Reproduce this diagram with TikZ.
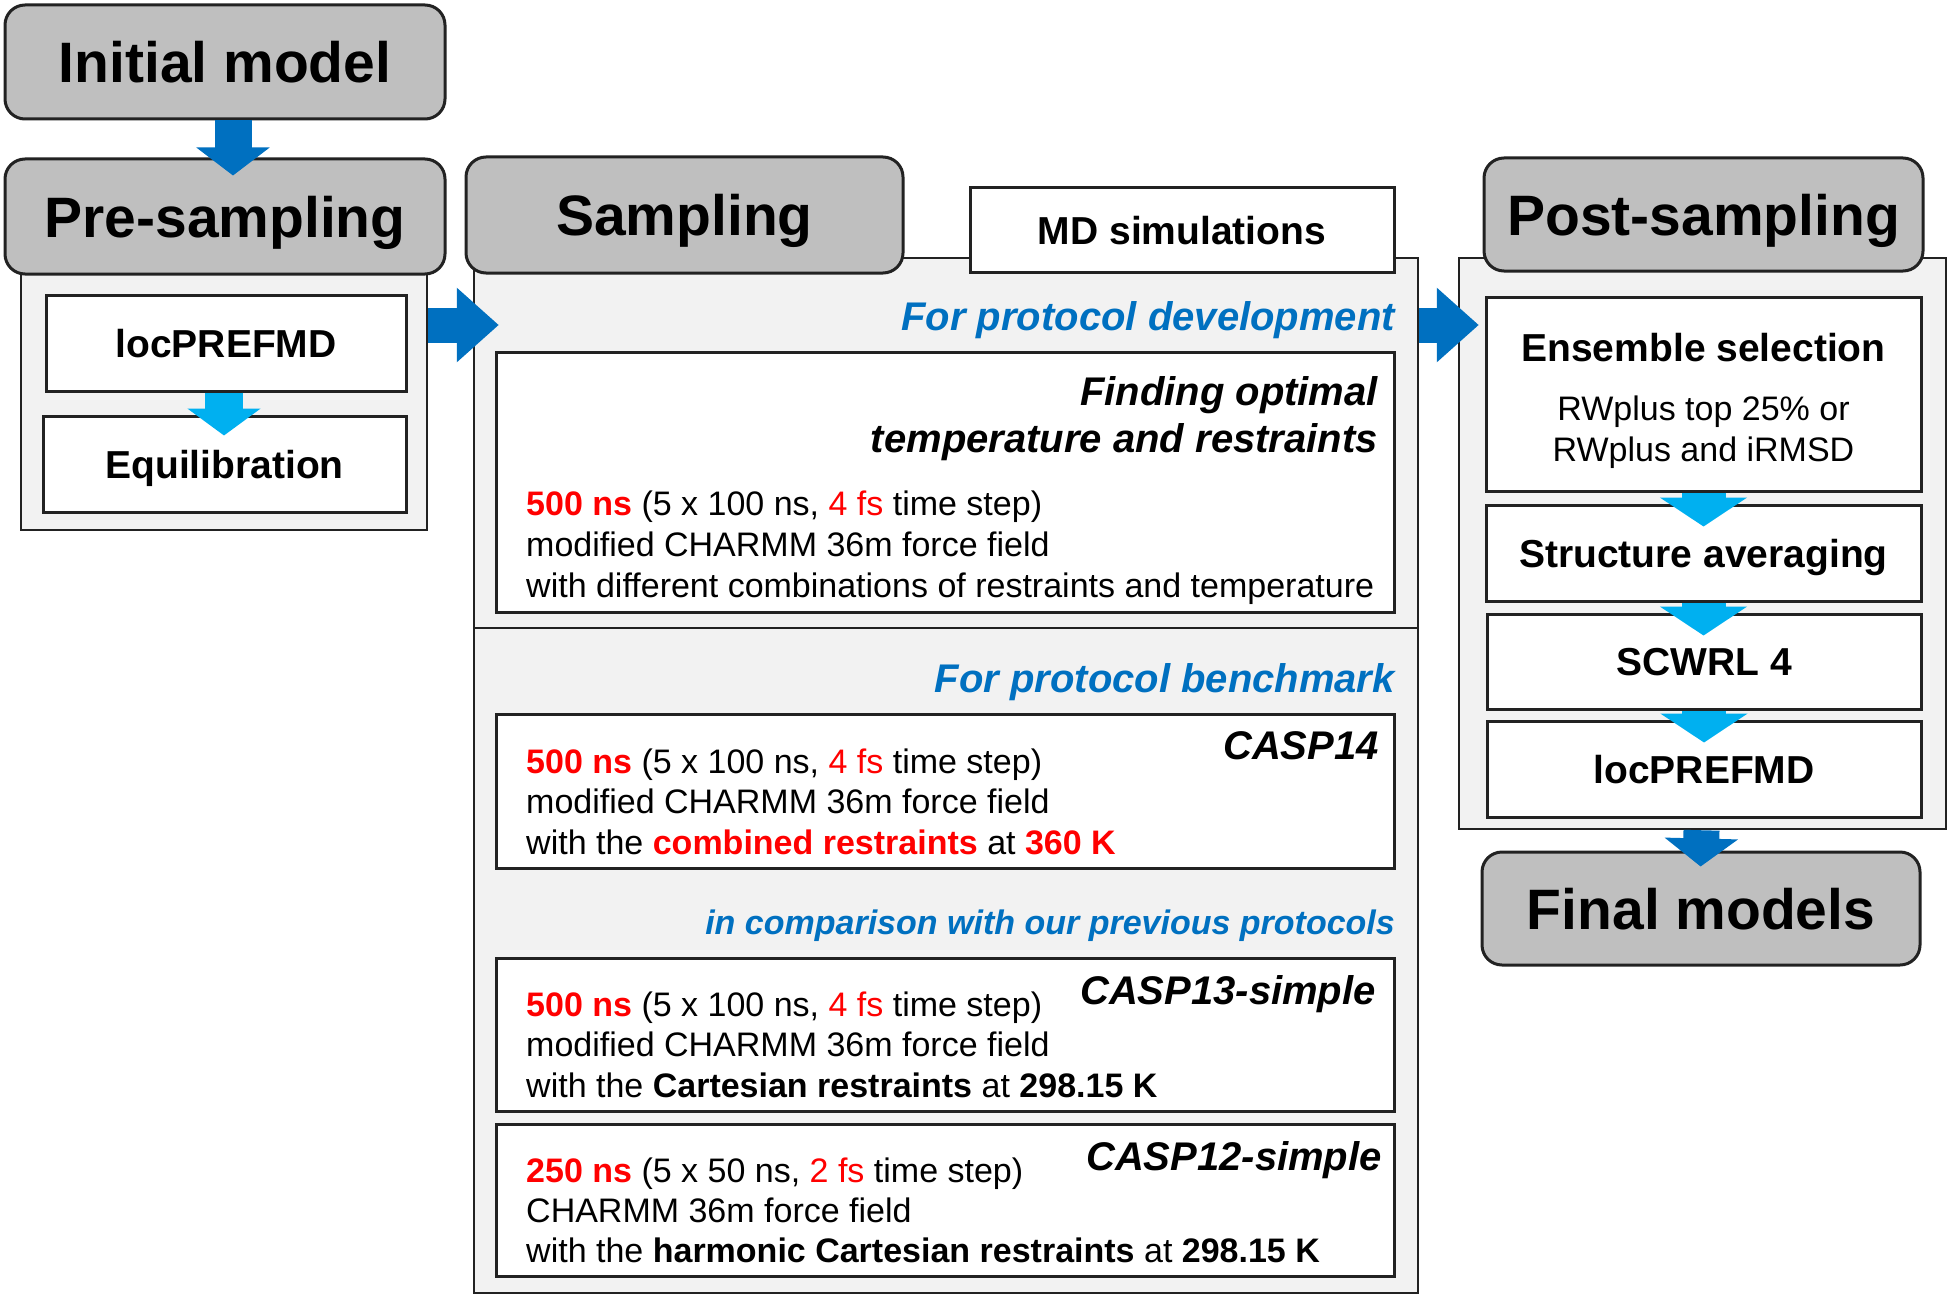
\documentclass[tikz,border=0pt]{standalone}
\usepackage{fontspec}
\setmainfont{Liberation Sans}
\usetikzlibrary{arrows.meta}
\definecolor{dblue}{HTML}{0070C0}
\definecolor{lblue}{HTML}{00B0F0}
\definecolor{hdrgray}{HTML}{BFBFBF}
\definecolor{contgray}{HTML}{F2F2F2}
\definecolor{tred}{HTML}{FF0000}
\definecolor{edge}{HTML}{222222}
\newcommand\rb[1]{{\bfseries\color{tred}#1}}
\newcommand\rr[1]{{\color{tred}#1}}
\begin{document}
\begin{tikzpicture}[x=1pt,y=-1pt,
  hdr/.style={draw=edge, line width=3pt, fill=hdrgray, rounded corners=20pt, inner sep=0pt,
    font=\fontsize{57}{68}\selectfont\bfseries, text height=41pt, text depth=0pt},
  cont/.style={draw=edge, line width=2.5pt, fill=contgray, inner sep=0pt},
  wbox/.style={draw=edge, line width=3pt, fill=white, inner sep=0pt,
    font=\fontsize{39}{47}\selectfont\bfseries, text height=28pt, text depth=0pt},
  body/.style={font=\fontsize{34}{41}\selectfont, anchor=base west, inner sep=0pt},
  blueh/.style={font=\fontsize{40}{48}\selectfont\bfseries\itshape, text=dblue, anchor=base east, inner sep=0pt},
  caspl/.style={font=\fontsize{40}{48}\selectfont\bfseries\itshape, anchor=base east, inner sep=0pt},
  darr/.style={draw=dblue, line width=37pt, -{Triangle[width=72pt,length=28pt]}},
  darrh/.style={draw=dblue, line width=35pt, -{Triangle[width=72pt,length=42pt]}},
  larr/.style={draw=lblue, line width=38pt, -{Triangle[width=72pt,length=27pt]}},
  larrr/.style={draw=lblue, line width=44pt, -{Triangle[width=86pt,length=29pt]}},
]
\path[use as bounding box, fill=white] (0,0) rectangle (1950,1300);

% containers
\node[cont, minimum width=406pt, minimum height=265pt] (precont) at (224,397.5) {};
\node[cont, minimum width=944pt, minimum height=370pt] (sampdev) at (946,443) {};
\node[cont, minimum width=944pt, minimum height=665pt] (sampbench) at (946,960.5) {};
\node[cont, minimum width=487pt, minimum height=571pt] (postcont) at (1702.5,543.5) {};

% headers
\node[hdr, minimum width=440pt, minimum height=114pt] (init) at (225,62) {Initial model};
\node[hdr, minimum width=440pt, minimum height=115pt] (pre) at (225,216.5) {Pre-sampling};
\node[hdr, minimum width=437pt, minimum height=116pt] (samp) at (684.5,215) {Sampling};
\node[hdr, minimum width=439pt, minimum height=113pt] (post) at (1703.5,214.5) {Post-sampling};
\node[hdr, minimum width=438pt, minimum height=113pt] (final) at (1701,908.5) {Final models};

% left boxes
\node[wbox, minimum width=360pt, minimum height=96pt] (loc1) at (226,343) {locPREFMD};
\node[wbox, minimum width=363pt, minimum height=96pt] (eq) at (224.5,464) {Equilibration};

% middle boxes
\node[wbox, minimum width=424pt, minimum height=84pt] (md) at (1182,230) {MD simulations};
\node[wbox, minimum width=898pt, minimum height=260pt] (dev) at (945,482) {};
\node[wbox, minimum width=898pt, minimum height=154pt] (c14) at (945,791) {};
\node[wbox, minimum width=898pt, minimum height=153pt] (c13) at (945,1034.5) {};
\node[wbox, minimum width=898pt, minimum height=152pt] (c12) at (945,1200) {};

% right boxes
\node[wbox, minimum width=435pt, minimum height=194pt] (ens) at (1703.5,394) {};
\node[wbox, minimum width=435pt, minimum height=96pt] (sa) at (1703.5,553) {Structure averaging};
\node[wbox, minimum width=434pt, minimum height=95pt] (scw) at (1704,661.5) {SCWRL 4};
\node[wbox, minimum width=434pt, minimum height=96pt] (loc2) at (1704,769) {locPREFMD};

% ensemble text
\node[font=\fontsize{39}{47}\selectfont\bfseries, anchor=base, inner sep=0pt] (enst) at (1703.5,361) {Ensemble selection};
\node[font=\fontsize{34}{41}\selectfont, anchor=base, inner sep=0pt] (ens1) at (1703.5,420) {RWplus top 25\% or};
\node[font=\fontsize{34}{41}\selectfont, anchor=base, inner sep=0pt] (ens2) at (1703.5,461) {RWplus and iRMSD};

% development section
\node[blueh] (tdev) at (1395,330) {For protocol development};
\node[caspl] (fo1) at (1378,405) {Finding optimal};
\node[caspl] (fo2) at (1378,452) {temperature and restraints};
\node[body] (d1) at (526,515) {\rb{500 ns} (5 x 100 ns, \rr{4 fs} time step)};
\node[body] (d2) at (526,556) {modified CHARMM 36m force field};
\node[body] (d3) at (526,597) {with different combinations of restraints and temperature};

% benchmark section
\node[blueh] (tbench) at (1395,692) {For protocol benchmark};
\node[caspl] (l14) at (1379,759) {CASP14};
\node[body] (a1) at (526,773) {\rb{500 ns} (5 x 100 ns, \rr{4 fs} time step)};
\node[body] (a2) at (526,813) {modified CHARMM 36m force field};
\node[body] (a3) at (526,854) {with the \rb{combined restraints} at \rb{360 K}};

\node[blueh, font=\fontsize{34}{41}\selectfont\bfseries\itshape] (tcomp) at (1395,934) {in comparison with our previous protocols};
\node[caspl] (l13) at (1376,1004) {CASP13-simple};
\node[body] (b1) at (526,1016) {\rb{500 ns} (5 x 100 ns, \rr{4 fs} time step)};
\node[body] (b2) at (526,1056) {modified CHARMM 36m force field};
\node[body] (b3) at (526,1097) {with the \textbf{Cartesian restraints} at \textbf{298.15 K}};

\node[caspl] (l12) at (1382,1170) {CASP12-simple};
\node[body] (e1) at (526,1182) {\rb{250 ns} (5 x 50 ns, \rr{2 fs} time step)};
\node[body] (e2) at (526,1222) {CHARMM 36m force field};
\node[body] (e3) at (526,1262) {with the \textbf{harmonic Cartesian restraints} at \textbf{298.15 K}};

% arrows
\draw[darr, shorten >=-18pt] ([xshift=8pt]init.south) -- ([xshift=8pt]pre.north);
\draw[larr, shorten >=-21pt] ([xshift=-2pt]loc1.south) -- ([xshift=-0.5pt]eq.north);
\draw[darrh, shorten >=-26pt] ([yshift=72.5pt]precont.east) -- ([yshift=118pt]sampdev.west);
\draw[darrh, shorten >=-21pt] ([yshift=118pt]sampdev.east) -- ([yshift=218.5pt]postcont.west);
\draw[larrr, shorten >=-23pt] (ens.south) -- (sa.north);
\draw[larrr, shorten >=-23pt] (sa.south) -- ([xshift=-0.5pt]scw.north);
\draw[larrr, shorten >=-23pt] (scw.south) -- (loc2.north);
\draw[darr, line width=36pt, shorten >=-16pt] ([xshift=-1pt]postcont.south) -- (final.north);
\end{tikzpicture}
\end{document}
